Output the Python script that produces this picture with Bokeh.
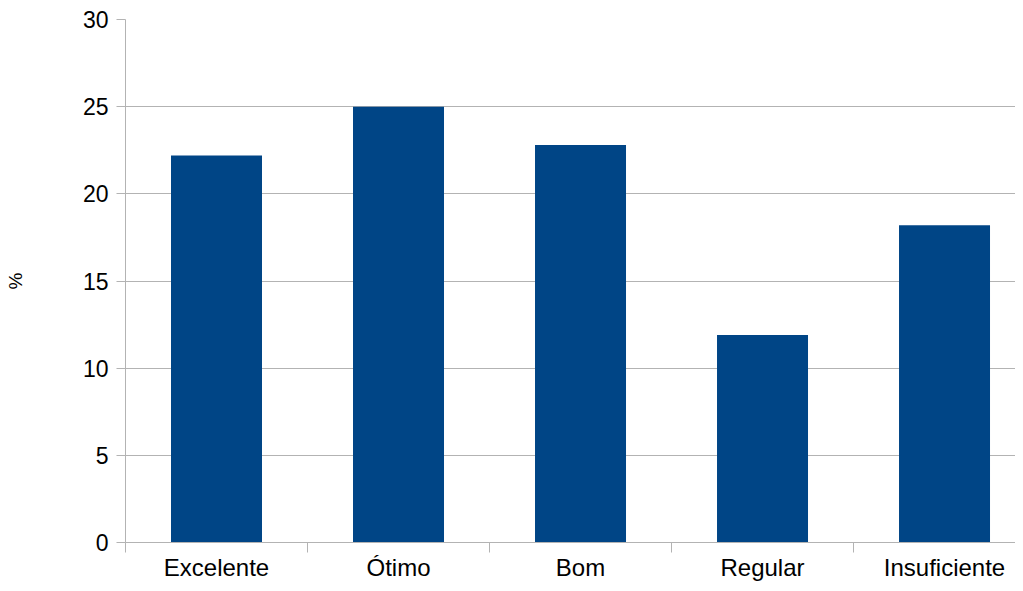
from bokeh.plotting import figure
from bokeh.models import FixedTicker, Range1d, ColumnDataSource
from bokeh.embed import file_html
from bokeh.resources import INLINE

categories = ["Excelente", "Ótimo", "Bom", "Regular", "Insuficiente"]
values = [22.2, 25.0, 22.8, 11.9, 18.2]
y_ticks = [0, 5, 10, 15, 20, 25, 30]

positions = [i + 0.5 for i in range(len(categories))]
src = ColumnDataSource(dict(x=positions, top=values))

p = figure(width=1015, height=583, output_backend="svg", toolbar_location=None,
           x_range=Range1d(0, 4.89), y_range=Range1d(0, 30),
           min_border_left=125, min_border_right=0, min_border_top=19, min_border_bottom=30)
p.outline_line_color = None
p.background_fill_color = "white"
p.border_fill_color = "white"

p.vbar(x="x", top="top", width=0.5, bottom=0, source=src, color="#004586", line_color=None)

grey = "#b3b3b3"
font = "Liberation Sans"

xa = p.xaxis[0]
xa.ticker = FixedTicker(ticks=positions, minor_ticks=list(range(len(categories) + 1)))
xa.major_label_overrides = {pos: c for pos, c in zip(positions, categories)}
xa.major_tick_in = 0
xa.major_tick_out = 0
xa.minor_tick_in = 0
xa.minor_tick_out = 10
xa.minor_tick_line_color = grey
xa.axis_line_color = grey
xa.major_label_text_font = font
xa.major_label_text_font_size = "24px"
xa.major_label_text_color = "#000000"
xa.major_label_standoff = 1

ya = p.yaxis[0]
ya.ticker = FixedTicker(ticks=y_ticks)
ya.major_tick_in = 0
ya.major_tick_out = 9
ya.minor_tick_line_color = None
ya.major_tick_line_color = grey
ya.axis_line_color = grey
ya.major_label_text_font = font
ya.major_label_text_font_size = "23px"
ya.major_label_text_color = "#000000"
ya.major_label_standoff = 8
ya.axis_label = "%"
ya.axis_label_text_font = font
ya.axis_label_text_font_size = "19px"
ya.axis_label_text_font_style = "normal"
ya.axis_label_text_color = "#000000"
ya.axis_label_standoff = 54

p.xgrid.grid_line_color = None
p.ygrid.grid_line_color = grey
p.ygrid.ticker = FixedTicker(ticks=y_ticks)

open("out.html", "w").write(file_html(p, INLINE))
